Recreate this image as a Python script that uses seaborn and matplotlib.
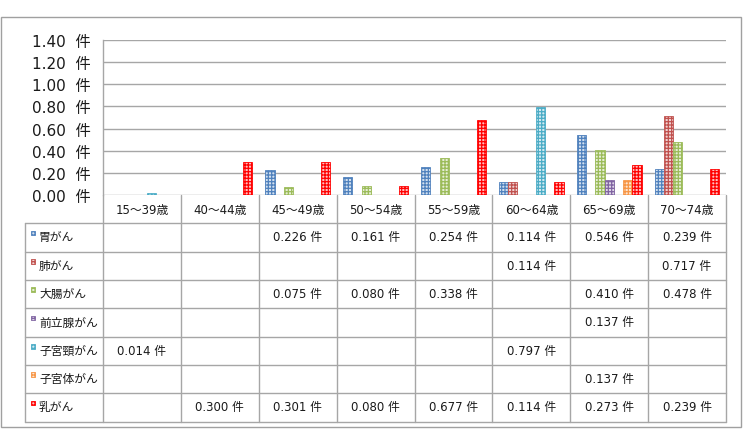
import numpy as np
import pandas as pd
import matplotlib
matplotlib.use("Agg")
import matplotlib.pyplot as plt
import matplotlib.colors as mcolors
from matplotlib.patches import Rectangle
import seaborn as sns

# データ（件）
ages = ['15～39歳', '40～44歳', '45～49歳', '50～54歳', '55～59歳', '60～64歳', '65～69歳', '70～74歳']
series = ['胃がん', '肺がん', '大腸がん', '前立腺がん', '子宮頸がん', '子宮体がん', '乳がん']
colors = ['#4F81BD', '#C0504D', '#9BBB59', '#8064A2', '#4BACC6', '#F79646', '#FF0000']

nan = np.nan
stomach = [nan, nan, 0.226, 0.161, 0.254, 0.114, 0.546, 0.239]
lung = [nan, nan, nan, nan, nan, 0.114, nan, 0.717]
colon = [nan, nan, 0.075, 0.080, 0.338, nan, 0.410, 0.478]
prostate = [nan, nan, nan, nan, nan, nan, 0.137, nan]
cervix = [0.014, nan, nan, nan, nan, 0.797, nan, nan]
uterus = [nan, nan, nan, nan, nan, nan, 0.137, nan]
breast = [nan, 0.300, 0.301, 0.080, 0.677, 0.114, 0.273, 0.239]
yticks = [0.0, 0.2, 0.4, 0.6, 0.8, 1.0, 1.2, 1.4]

values = [stomach, lung, colon, prostate, cervix, uterus, breast]

rows = []
for name, vals in zip(series, values):
    for age, v in zip(ages, vals):
        rows.append({'age': age, 'series': name, 'value': v})
df = pd.DataFrame(rows)

sns.set_theme(style='white')
plt.rcParams['font.family'] = ['DejaVu Sans', 'Noto Sans CJK JP']
plt.rcParams['hatch.linewidth'] = 0.9

W, H = 746, 431
fig = plt.figure(figsize=(W / 100, H / 100), dpi=100)

# 表とフレーム用のオーバーレイ（ピクセル座標）
ax_t = fig.add_axes([0, 0, 1, 1])
ax_t.set_xlim(0, W)
ax_t.set_ylim(H, 0)
ax_t.axis('off')

x0, x1 = 103, 726
y_top, y_zero = 41, 196
ax = fig.add_axes([x0 / W, 1 - y_zero / H, (x1 - x0) / W, (y_zero - y_top) / H])
ax.patch.set_alpha(0)

sns.barplot(data=df.dropna(), x='age', y='value', hue='series', order=ages,
            hue_order=series, palette=colors, width=0.83, saturation=1,
            legend=False, ax=ax)

# Excel風のパターン塗り
for p in ax.patches:
    c = p.get_facecolor()
    light = tuple(0.75 + 0.25 * np.array(c[:3])) + (1,)
    p.set_facecolor(light)
    p.set_edgecolor(c)
    p.set_hatch('+++++')
    p.set_linewidth(0.6)

gc = '#A6A6A6'
ax.set_ylim(0, 1.4)
ax.set_yticks(yticks)
ax.set_yticklabels([f'{v:.2f}  件' for v in yticks], fontsize=11, color='#1a1a1a')
ax.yaxis.grid(True, color=gc, linewidth=1)
ax.set_axisbelow(True)
ax.tick_params(axis='y', length=0, pad=9)
ax.tick_params(axis='x', length=0, pad=6, labelsize=8.5, labelcolor='#1a1a1a')
ax.set_xlabel('')
ax.set_ylabel('')
for s in ['top', 'right', 'bottom']:
    ax.spines[s].set_visible(False)
ax.spines['left'].set_color(gc)
ax.spines['left'].set_linewidth(1)

# 外枠
ax_t.add_patch(Rectangle((1, 18), 740, 410, fill=False, edgecolor='#A0A0A0', lw=1))

# データテーブル
col_w = (x1 - x0) / len(ages)
tab_top, row_h = 224.3, 28.33
tab_left = 25
tab_bottom = tab_top + row_h * len(series)
for i in range(len(ages) + 1):
    xc = x0 + i * col_w
    ax_t.plot([xc, xc], [y_zero, tab_bottom], color=gc, lw=1)
ax_t.plot([tab_left, tab_left], [tab_top, tab_bottom], color=gc, lw=1)
for k in range(len(series) + 1):
    yr = tab_top + k * row_h
    ax_t.plot([tab_left, x1], [yr, yr], color=gc, lw=1)

for k, (name, vals, c) in enumerate(zip(series, values, colors)):
    yc = tab_top + (k + 0.5) * row_h
    light = tuple(0.75 + 0.25 * np.array(mcolors.to_rgb(c)))
    ax_t.add_patch(Rectangle((31, tab_top + k * row_h + 7.5), 4, 4.5, facecolor=light,
                             edgecolor=c, hatch='+++++', lw=0.6))
    ax_t.text(39, yc - 0.5, name, fontsize=8.5, va='center', ha='left', color='#1a1a1a')
    for i, v in enumerate(vals):
        if not np.isnan(v):
            ax_t.text(x0 + (i + 0.5) * col_w, yc - 0.5, f'{v:.3f} 件', fontsize=8.5,
                      va='center', ha='center', color='#1a1a1a')

fig.savefig('out.png', dpi=100)
plt.close(fig)
